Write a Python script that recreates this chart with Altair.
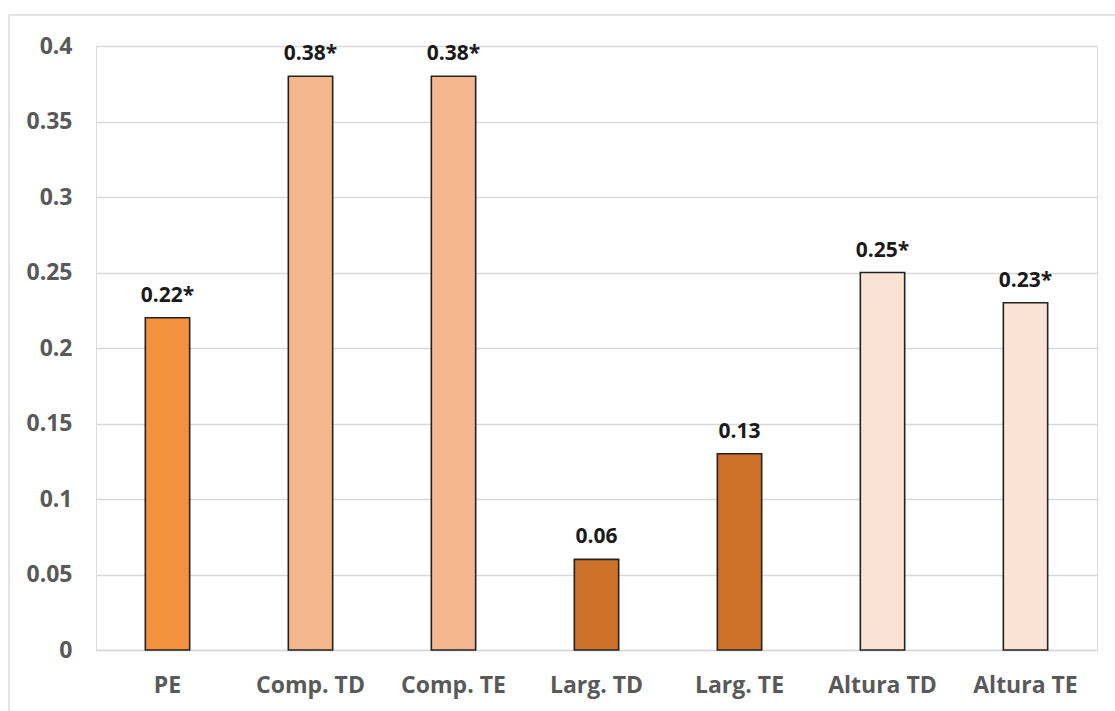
import altair as alt
import pandas as pd

categories = ["PE", "Comp. TD", "Comp. TE", "Larg. TD", "Larg. TE", "Altura TD", "Altura TE"]
values = [0.22, 0.38, 0.38, 0.06, 0.13, 0.25, 0.23]
labels = ["0.22*", "0.38*", "0.38*", "0.06", "0.13", "0.25*", "0.23*"]
colors = ["#F4913F", "#F5B78E", "#F5B78E", "#CD7129", "#CD7129", "#FBE3D4", "#FBE3D4"]

df = pd.DataFrame({"cat": categories, "val": values, "lab": labels, "col": colors})

FONT = "Open Sans"
FS = 23
LFS = 21

x = alt.X("cat:N", sort=categories, title=None,
          scale=alt.Scale(paddingInner=0.69, paddingOuter=0.345),
          axis=alt.Axis(labelAngle=0, labelFont=FONT, labelFontSize=FS, labelFontWeight="bold",
                        labelColor="#595959", labelPadding=24, ticks=False,
                        domainColor="#d9d9d9", domainWidth=1.5, grid=False))
y = alt.Y("val:Q", title=None,
          scale=alt.Scale(domain=[0, 0.4], nice=False),
          axis=alt.Axis(values=[0, 0.05, 0.1, 0.15, 0.2, 0.25, 0.3, 0.35, 0.4],
                        labelFont=FONT, labelFontSize=FS, labelFontWeight="bold",
                        labelColor="#595959", labelPadding=24, ticks=False, domain=False,
                        gridColor="#d9d9d9", gridWidth=1.5, labelExpr="format(datum.value, '')"))

bars = alt.Chart(df).mark_bar(stroke="#222222", strokeWidth=1.6).encode(
    x=x, y=y, fill=alt.Fill("col:N", scale=None)
)

text = alt.Chart(df).mark_text(font=FONT, fontSize=LFS, fontWeight="bold", color="#1a1a1a",
                               baseline="alphabetic", dy=-16).encode(
    x=alt.X("cat:N", sort=categories), y="val:Q", text="lab:N"
)

frame_top = alt.Chart(df).mark_rule(color="#e3e3e3", strokeWidth=1.5).encode(
    x=alt.value(-87), x2=alt.value(1019), y=alt.value(-31)
)
frame_left = alt.Chart(df).mark_rule(color="#e3e3e3", strokeWidth=1.5).encode(
    x=alt.value(-87), y=alt.value(-31), y2=alt.value(665)
)

chart = alt.layer(bars, text, frame_top, frame_left).properties(
    width=1001, height=604,
    autosize=alt.AutoSizeParams(type="none"),
    padding={"left": 96, "top": 46, "right": 18, "bottom": 61},
).configure_view(stroke=None).configure(background="white")

chart.save("out.html", embed_options={"renderer": "svg", "actions": False})
